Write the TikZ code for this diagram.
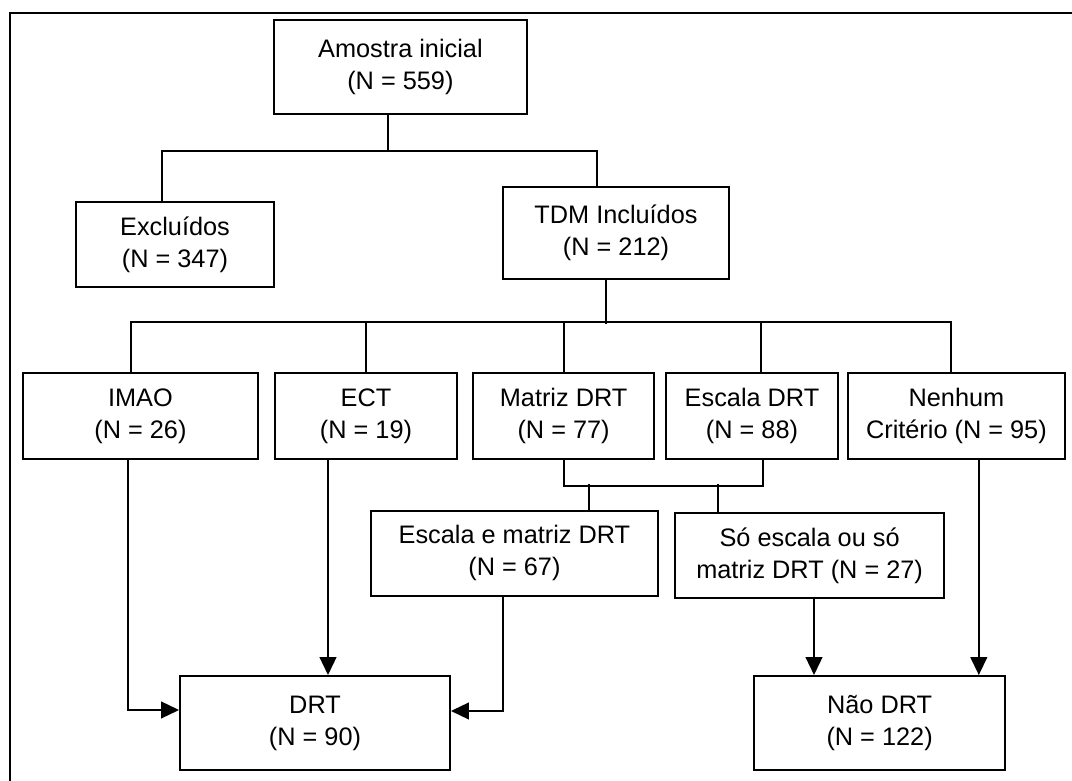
\documentclass[tikz,border=0pt]{standalone}
\usepackage{fontspec}
\setmainfont{Liberation Sans}
\usetikzlibrary{arrows.meta}

\begin{document}
\begin{tikzpicture}[
    box/.style={draw,line width=1.4pt,inner sep=0pt,align=center,
      minimum height=2.15cm,font=\fontsize{18}{22.8}\selectfont},
    link/.style={line width=1.4pt},
    arr/.style={line width=1.4pt,-{Triangle[length=0.45cm,width=0.42cm]}}]
  \useasboundingbox (0,0) rectangle (26.8,19.525);
  \draw[link] (0.25,0) -- (0.25,19.2) -- (26.8,19.2);

  \node[box,minimum width=6.325cm,minimum height=2.35cm] (amostra) at (10.01,17.85) {Amostra inicial\\(N = 559)};
  \node[box,minimum width=4.95cm,minimum height=2.125cm] (excl) at (4.375,13.41) {Excluídos\\(N = 347)};
  \node[box,minimum width=5.65cm,minimum height=2.3cm] (tdm) at (15.4,13.7) {TDM Incluídos\\(N = 212)};

  \node[box,minimum width=5.875cm] (imao) at (3.51,9.125) {IMAO\\(N = 26)};
  \node[box,minimum width=4.55cm] (ect) at (9.15,9.125) {ECT\\(N = 19)};
  \node[box,minimum width=4.525cm] (matriz) at (14.09,9.125) {Matriz DRT\\(N = 77)};
  \node[box,minimum width=4.3cm] (escala) at (18.8,9.125) {Escala DRT\\(N = 88)};
  \node[box,minimum width=5.425cm] (nenhum) at (23.91,9.125) {Nenhum\\Critério (N = 95)};

  \node[box,minimum width=7.175cm,minimum height=2.125cm] (eem) at (12.86,5.69) {Escala e matriz DRT\\(N = 67)};
  \node[box,minimum width=6.725cm,minimum height=2.125cm] (so) at (20.24,5.64) {Só escala ou só\\matriz DRT (N = 27)};

  \node[box,minimum width=6.75cm,minimum height=2.35cm] (drt) at (7.875,1.45) {DRT\\(N = 90)};
  \node[box,minimum width=6.275cm,minimum height=2.35cm] (nao) at (21.99,1.45) {Não DRT\\(N = 122)};

  % first split
  \draw[link] ([xshift=-3.1mm]amostra.south) -- ++(0,-0.9);
  \draw[link] ([xshift=-3.25mm]excl.north) -- ++(0,1.25) -| ([xshift=-4.75mm]tdm.north);

  % criteria
  \draw[link] ([xshift=-2.5mm]tdm.south) -- ++(0,-1.1);
  \draw[link] ([xshift=-2.4mm]imao.north) -- ++(0,1.25) -| ([xshift=-1.4mm]nenhum.north);
  \foreach \n/\dx in {ect/0,matriz/0,escala/2.25}
    \draw[link] ([xshift=\dx mm]\n.north) -- ++(0,1.25);

  % scale and matrix
  \draw[link] (matriz.south) -- ++(0,-0.65) -| ([xshift=2.75mm]escala.south);
  \draw[link] ([xshift=18.6mm]eem.north) -- ++(0,0.65);
  \draw[link] ([xshift=-22.9mm]so.north) -- ++(0,0.7);

  % outcome
  \draw[arr] ([xshift=-3.1mm]imao.south) |- ([yshift=3.25mm]drt.west);
  \draw[arr] ([xshift=-9.5mm]ect.south) -- ([xshift=-9.5mm]ect.south |- drt.north);
  \draw[arr] ([xshift=-2.9mm]eem.south) |- ([yshift=3mm]drt.east);
  \draw[arr] ([xshift=1.1mm]so.south) -- ([xshift=1.1mm]so.south |- nao.north);
  \draw[arr] ([xshift=5.6mm]nenhum.south) -- ([xshift=5.6mm]nenhum.south |- nao.north);
\end{tikzpicture}
\end{document}
